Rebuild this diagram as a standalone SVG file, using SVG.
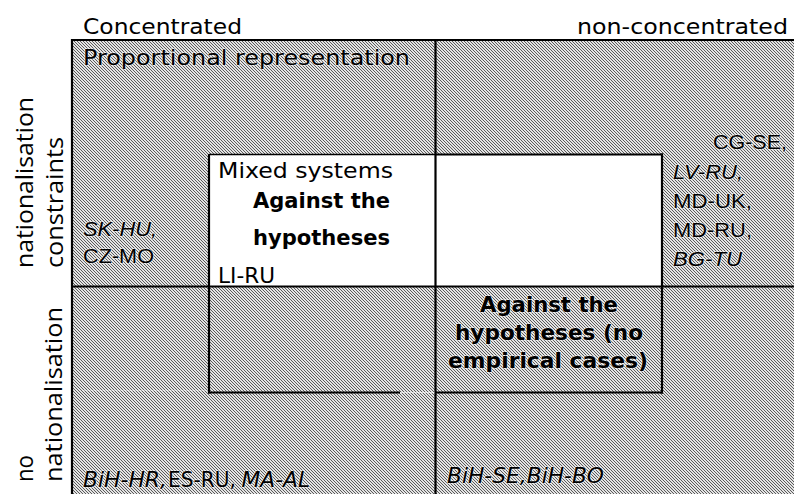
<svg xmlns="http://www.w3.org/2000/svg" width="794" height="494" viewBox="0 0 794 494">
  <defs>
    <pattern id="hatch" patternUnits="userSpaceOnUse" x="0" y="0" width="3" height="3">
      <rect width="3" height="3" fill="#e4e4e4"/>
      <path d="M0 0h1v1H0z M1 1h1v1H1z M2 2h1v1H2z" fill="#5a5a5a"/>
    </pattern>
  </defs>
  <style>
    .v { font-family: "DejaVu Sans", Verdana, sans-serif; font-size: 22px; fill: #000; }
    .vb { font-family: "DejaVu Sans", Verdana, sans-serif; font-size: 21px; font-weight: bold; fill: #000; }
    .a { font-family: "Liberation Sans", Arial, sans-serif; font-size: 20px; fill: #000; }
    .o { font-family: "Open Sans", "Noto Sans", sans-serif; font-size: 23px; fill: #000; }
    .i { font-style: italic; }
    .halo { stroke: #ffffff; stroke-opacity: 0.45; stroke-width: 2px; paint-order: stroke; stroke-linejoin: round; }
    .ln { stroke: #000; stroke-width: 2.2; fill: none; }
    .thin { stroke: #000; stroke-width: 1.4; fill: none; }
  </style>

  <rect width="794" height="494" fill="#ffffff"/>

  <g id="axis-labels">
    <text class="v" x="83" y="33.5" textLength="159" lengthAdjust="spacingAndGlyphs">Concentrated</text>
    <text class="v" x="577" y="33.5" textLength="211" lengthAdjust="spacingAndGlyphs">non-concentrated</text>
    <text class="o" transform="translate(33,268) rotate(-90)" textLength="171" lengthAdjust="spacingAndGlyphs">nationalisation</text>
    <text class="o" transform="translate(63,268) rotate(-90)" textLength="131" lengthAdjust="spacingAndGlyphs">constraints</text>
    <text class="o" transform="translate(33,482) rotate(-90)" textLength="27" lengthAdjust="spacingAndGlyphs">no</text>
    <text class="o" transform="translate(62,482) rotate(-90)" textLength="175" lengthAdjust="spacingAndGlyphs">nationalisation</text>
  </g>

  <g id="matrix-background">
    <rect x="72" y="40" width="722" height="454" fill="url(#hatch)"/>
    <rect x="209" y="154.5" width="453" height="131.5" fill="#ffffff"/>
  </g>

  <g id="connectors">
    <line class="ln" x1="71" y1="40" x2="794" y2="40"/>
    <line class="ln" x1="72" y1="39" x2="72" y2="494"/>
    <line class="ln" x1="435.5" y1="39" x2="435.5" y2="494"/>
    <line class="ln" x1="71" y1="286.5" x2="794" y2="286.5"/>
    <line class="thin" x1="209" y1="154.5" x2="435.5" y2="154.5"/>
    <line class="ln" x1="435.5" y1="154.5" x2="663" y2="154.5"/>
    <line class="ln" x1="209" y1="154" x2="209" y2="393.5"/>
    <line class="ln" x1="662" y1="153.5" x2="662" y2="393.5"/>
    <line class="ln" x1="208" y1="392.5" x2="400" y2="392.5"/>
    <line stroke="#ffffff" stroke-opacity="0.6" stroke-width="1.2" x1="400" y1="392.5" x2="434.5" y2="392.5"/>
    <line class="ln" x1="435.5" y1="392.5" x2="663" y2="392.5"/>
    <line stroke="#ffffff" stroke-opacity="0.35" stroke-width="1" x1="82" y1="390.5" x2="208" y2="390.5"/>
  </g>

  <g id="cell-proportional">
    <text class="v halo" x="83" y="64.5" textLength="327" lengthAdjust="spacingAndGlyphs">Proportional representation</text>
    <text class="a i halo" x="83" y="236" textLength="74" lengthAdjust="spacingAndGlyphs">SK-HU,</text>
    <text class="a halo" x="83" y="262.5" textLength="71" lengthAdjust="spacingAndGlyphs">CZ-MO</text>
  </g>

  <g id="cell-noncentrated-constraints">
    <text class="a halo" x="713" y="149" textLength="74" lengthAdjust="spacingAndGlyphs">CG-SE,</text>
    <text class="a i halo" x="673" y="179.3" textLength="70" lengthAdjust="spacingAndGlyphs">LV-RU,</text>
    <text class="a halo" x="673" y="208.3" textLength="79" lengthAdjust="spacingAndGlyphs">MD-UK,</text>
    <text class="a halo" x="673" y="237.3" textLength="79" lengthAdjust="spacingAndGlyphs">MD-RU,</text>
    <text class="a i halo" x="673" y="266" textLength="69" lengthAdjust="spacingAndGlyphs">BG-TU</text>
  </g>

  <g id="cell-mixed-systems">
    <text class="v" x="218" y="178.3" textLength="175" lengthAdjust="spacingAndGlyphs">Mixed systems</text>
    <text class="vb" x="253" y="208.3" textLength="137" lengthAdjust="spacingAndGlyphs">Against the</text>
    <text class="vb" x="253" y="245" textLength="137" lengthAdjust="spacingAndGlyphs">hypotheses</text>
    <text class="v" x="218" y="282.5" font-size="20" textLength="57" lengthAdjust="spacingAndGlyphs">LI-RU</text>
  </g>

  <g id="cell-no-empirical">
    <text class="vb halo" x="480" y="311.7" textLength="138" lengthAdjust="spacingAndGlyphs">Against the</text>
    <text class="vb halo" x="455" y="340" textLength="188" lengthAdjust="spacingAndGlyphs">hypotheses (no</text>
    <text class="vb halo" x="448" y="368.3" textLength="200" lengthAdjust="spacingAndGlyphs">empirical cases)</text>
  </g>

  <g id="cell-bottom-left">
    <text class="v i halo" x="83" y="486.5" font-size="20" textLength="84" lengthAdjust="spacingAndGlyphs">BiH-HR,</text>
    <text class="v halo" x="168" y="486.5" font-size="20" textLength="68" lengthAdjust="spacingAndGlyphs">ES-RU,</text>
    <text class="v i halo" x="241.5" y="486.5" font-size="20" textLength="68.5" lengthAdjust="spacingAndGlyphs">MA-AL</text>
  </g>

  <g id="cell-bottom-right">
    <text class="v i halo" x="447" y="482.7" font-size="20" textLength="157" lengthAdjust="spacingAndGlyphs">BiH-SE,BiH-BO</text>
  </g>
</svg>
